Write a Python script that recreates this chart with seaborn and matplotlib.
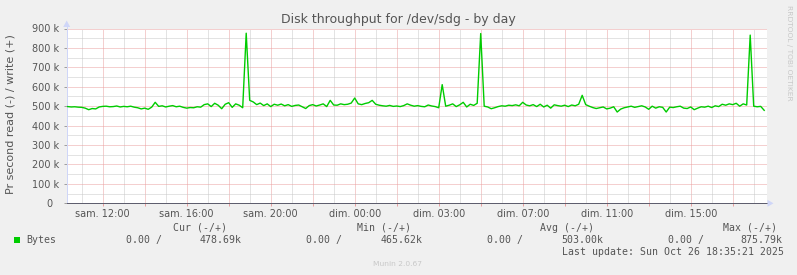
import matplotlib
matplotlib.use("Agg")
import matplotlib.pyplot as plt
import seaborn as sns
import pandas as pd
from matplotlib.ticker import FixedLocator, FuncFormatter, MultipleLocator
from matplotlib.patches import Rectangle, Polygon
from matplotlib.lines import Line2D

# ---------------- data ----------------
start_hour = 10 + 20 / 60       # first sample: Saturday 10:20 (hours since Sat 00:00)
step_hours = 10 / 60            # one sample every 10 minutes
write_k = [
    498, 496, 497, 495, 494, 490, 482, 488, 486, 496,
    499, 500, 497, 498, 501, 496, 499, 497, 500, 495,
    492, 486, 490, 484, 495, 520, 499, 502, 496, 500,
    503, 497, 500, 494, 490, 493, 492, 497, 495, 508,
    512, 498, 515, 505, 487, 510, 518, 494, 512, 505,
    492, 875.79, 530, 522, 508, 516, 503, 512, 498, 510,
    505, 511, 502, 508, 499, 504, 506, 497, 488, 503,
    508, 501, 506, 512, 498, 530, 506, 505, 512, 508,
    510, 516, 542, 512, 508, 514, 518, 530, 510, 505,
    502, 500, 504, 499, 501, 498, 503, 512, 505, 500,
    503, 499, 497, 506, 501, 498, 492, 611, 500, 505,
    512, 498, 507, 520, 496, 510, 504, 515, 874, 500,
    496, 487, 492, 498, 502, 500, 505, 503, 507, 502,
    520, 506, 502, 508, 498, 510, 496, 505, 490, 507,
    503, 500, 505, 498, 506, 502, 510, 556, 508, 500,
    493, 488, 492, 496, 486, 490, 497, 470, 485, 492,
    496, 500, 494, 498, 502, 496, 484, 500, 490, 497,
    494, 470, 495, 493, 497, 500, 490, 488, 496, 482,
    490, 497, 495, 500, 493, 502, 498, 510, 505, 512,
    508, 515, 500, 512, 506, 866, 500, 497, 499, 478.69,
]
xtick_hours = [12, 16, 20, 24, 28, 32, 36, 40]
xtick_labels = ["sam. 12:00", "sam. 16:00", "sam. 20:00", "dim. 00:00",
                "dim. 03:00", "dim. 07:00", "dim. 11:00", "dim. 15:00"]
ytick_values = [0, 100, 200, 300, 400, 500, 600, 700, 800, 900]
ytick_labels = ["0  ", "100 k", "200 k", "300 k", "400 k", "500 k",
                "600 k", "700 k", "800 k", "900 k"]
legend_series = "Bytes"
legend_cols = ["Cur (-/+)", "Min (-/+)", "Avg (-/+)", "Max (-/+)"]
legend_read = ["0.00 /", "0.00 /", "0.00 /", "0.00 /"]
legend_write = ["478.69k", "465.62k", "503.00k", "875.79k"]
title = "Disk throughput for /dev/sdg - by day"
ylabel = "Pr second read (-) / write (+)"
last_update = "Last update: Sun Oct 26 18:35:21 2025"

df = pd.DataFrame({
    "hour": [start_hour + i * step_hours for i in range(len(write_k))],
    "write": write_k,
})

# ---------------- figure ----------------
W, H = 797, 275
fig = plt.figure(figsize=(W / 100, H / 100), dpi=100, facecolor="#F0F0F0")

def fx(x):
    return x / W

def fy(y):
    return 1 - y / H

left, right, top, bottom = 66.7, 766.7, 28.5, 203.3
ax = fig.add_axes([fx(left), fy(bottom), (right - left) / W, (bottom - top) / H])
ax.set_facecolor("white")

xmin = 12 - 36 / 21
xmax = xmin + (right - left) / 21
ax.set_xlim(xmin, xmax)
ax.set_ylim(0, 900)

sns.lineplot(data=df, x="hour", y="write", ax=ax, color="#00CC00",
             linewidth=1.0, zorder=3)

# grid
ax.set_axisbelow(True)
ax.xaxis.set_major_locator(MultipleLocator(2))
ax.xaxis.set_minor_locator(MultipleLocator(1))
lab = dict(zip(xtick_hours, xtick_labels))
ax.xaxis.set_major_formatter(FuncFormatter(lambda v, p: lab.get(int(round(v)), "")))
ax.yaxis.set_major_locator(FixedLocator(ytick_values))
ax.yaxis.set_minor_locator(MultipleLocator(50))
ylab = dict(zip(ytick_values, ytick_labels))
ax.yaxis.set_major_formatter(FuncFormatter(lambda v, p: ylab.get(int(round(v)), "")))

ax.grid(which="major", color="#EBA0A0", linestyle=(0, (1, 1)), linewidth=0.72)
ax.grid(which="minor", color="#C8C8C8", linestyle=(0, (1, 1)), linewidth=0.72)

ax.tick_params(axis="x", which="major", length=2.2, width=0.72, color="#E8A0A0",
               labelsize=7, labelcolor="#555555", pad=1.8, direction="out")
ax.tick_params(axis="y", which="major", length=2.0, width=0.72, color="#A0A0A0",
               labelsize=7, labelcolor="#555555", pad=3.2, direction="out")
ax.tick_params(which="minor", length=0)
ax.set_xlabel("")
ax.set_ylabel("")

for s in ["top", "right"]:
    ax.spines[s].set_visible(False)
ax.spines["left"].set_color("#CFD6F8")
ax.spines["left"].set_linewidth(0.72)
ax.spines["bottom"].set_color("#5E5E6E")
ax.spines["bottom"].set_linewidth(0.72)

# axis extensions and arrows
fig.add_artist(Line2D([fx(left), fx(left)], [fy(top), fy(25)], color="#CFD6F8", lw=0.72))
fig.add_artist(Polygon([[fx(left - 3.5), fy(27)], [fx(left + 3.5), fy(27)], [fx(left), fy(20.5)]],
                       closed=True, facecolor="#CFD6F8", edgecolor="none"))
fig.add_artist(Polygon([[fx(767.5), fy(bottom - 3.5)], [fx(767.5), fy(bottom + 3.5)], [fx(773.5), fy(bottom)]],
                       closed=True, facecolor="#CFD6F8", edgecolor="none"))

# texts
fig.text(fx(398), fy(19.5), title, ha="center", va="center", fontsize=9, color="#555555")
fig.text(fx(10.5), fy(114), ylabel, ha="center", va="center", rotation=90,
         fontsize=8, color="#555555")
fig.text(fx(788.5), fy(53), "RRDTOOL / TOBI OETIKER", ha="center", va="center",
         rotation=270, fontsize=5.4, color="#C8C8C8")
fig.text(fx(373.3), fy(263.5), "Munin 2.0.67", ha="left", va="center",
         fontsize=5.4, color="#C8C8C8")

mono = dict(family="DejaVu Sans Mono", fontsize=7.15, color="#555555", va="center", ha="left")
for x, t in zip([173.3, 356.7, 540.0, 722.7], legend_cols):
    fig.text(fx(x), fy(227.7), t, **mono)
fig.add_artist(Rectangle((fx(14), fy(243)), 6 / W, 6 / H, facecolor="#00CC00", edgecolor="none"))
fig.text(fx(26), fy(240), legend_series, **mono)
for x, t in zip([126, 306, 487.3, 667.7], legend_read):
    fig.text(fx(x), fy(240), t, **mono)
for x, t in zip([200, 380.7, 561.7, 740.7], legend_write):
    fig.text(fx(x), fy(240), t, **mono)
fig.text(fx(561.7), fy(251.7), last_update, **mono)

fig.savefig("out.png", dpi=100, facecolor="#F0F0F0")
